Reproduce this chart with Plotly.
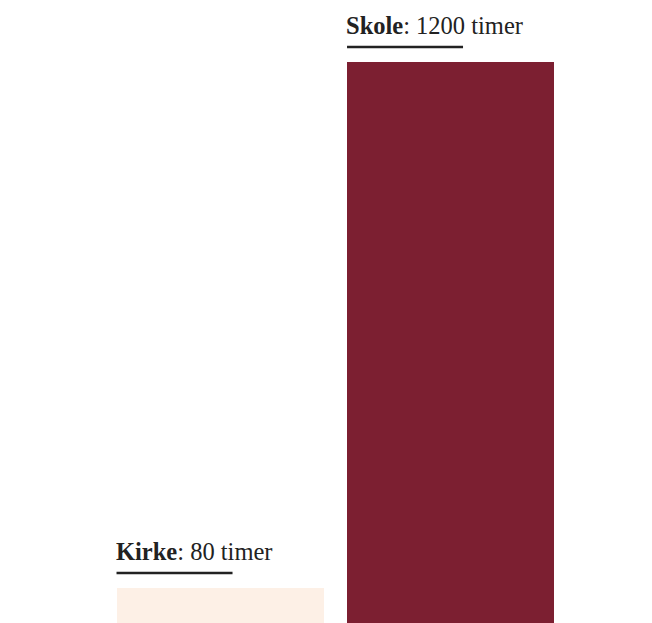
import plotly.graph_objects as go

categories = ["Kirke", "Skole"]
values = [80, 1200]
unit = "timer"
colors = ["#FDF0E6", "#7C1F31"]

fig = go.Figure()
fig.add_trace(go.Bar(
    x=list(range(len(categories))), y=values, width=0.9,
    marker=dict(color=colors, line=dict(width=0)),
    hoverinfo="skip", showlegend=False,
))

for i, (c, v) in enumerate(zip(categories, values)):
    fig.add_annotation(
        x=i - 0.45, y=v, xref="x", yref="y",
        text=f"<b>{c}</b>: {v} {unit}", showarrow=False,
        xanchor="left", yanchor="bottom", yshift=21, xshift=-3,
        font=dict(family="Liberation Serif", size=24.5, color="#222222"),
    )
    fig.add_shape(
        type="line", xref="x", yref="y",
        xsizemode="pixel", ysizemode="pixel",
        xanchor=i - 0.45, yanchor=v,
        x0=0, x1=116, y0=15, y1=15,
        line=dict(color="#222222", width=2.5),
    )

fig.update_layout(
    width=652, height=623,
    margin=dict(l=96.5, r=93.5, t=0, b=0),
    paper_bgcolor="white", plot_bgcolor="white",
    xaxis=dict(range=[-0.5, 1.5], visible=False, fixedrange=True),
    yaxis=dict(range=[-11.5, 1315], visible=False, fixedrange=True),
    bargap=0,
)
fig.write_html("out.html")
